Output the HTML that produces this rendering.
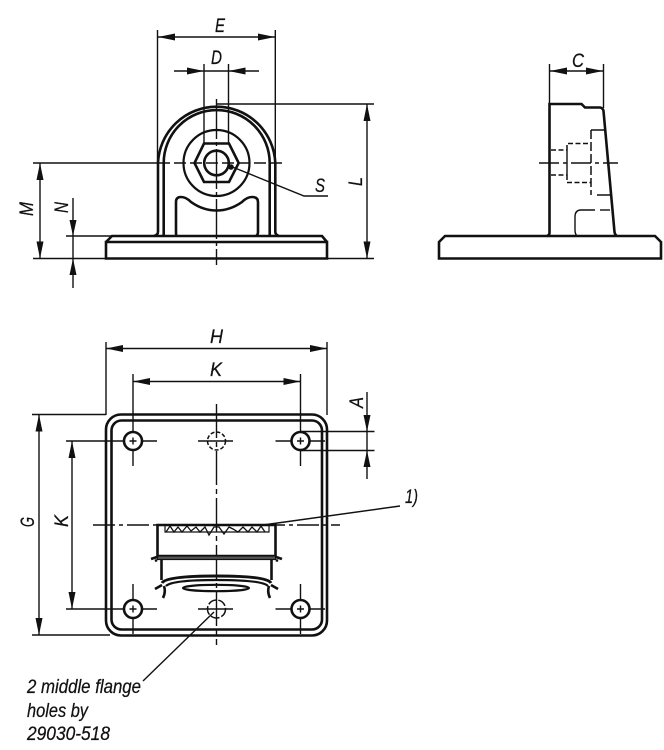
<!DOCTYPE html>
<html><head><meta charset="utf-8">
<style>
html,body{margin:0;padding:0;background:#fff;width:664px;height:750px;overflow:hidden}
svg{display:block}
text{font-family:"Liberation Sans",sans-serif;font-style:italic;font-size:19.5px;fill:#111;stroke:#111;stroke-width:.25}
.t{fill:none;stroke:#111;stroke-width:1.4}
.b{fill:none;stroke:#111;stroke-width:2.6}
.c{fill:none;stroke:#111;stroke-width:1.4;stroke-dasharray:24 4 4 4}
.d{fill:none;stroke:#111;stroke-width:1.5;stroke-dasharray:7 3.5}
polygon{fill:#111}
</style></head><body>
<svg width="664" height="750" viewBox="0 0 664 750" xmlns="http://www.w3.org/2000/svg">
<!-- FRONT VIEW -->
<path class="t" d="M157.5 30V163M275.3 30V163M158 37H275M174 71H259M204 64V144M228.5 64V144"/>
<polygon points="158,37 175,33.5 175,40.5"/><polygon points="275,37 258,33.5 258,40.5"/>
<polygon points="204,71 187,67.5 187,74.5"/><polygon points="228.500,71 245.500,67.500 245.500,74.500"/>
<path class="b" d="M158 232V163A58.700 58.700 0 0 1 275.300 163V232Q275.500 235 279 236M158 232Q157.800 235 154 236"/>
<path class="b" d="M163.700 236V163A53 53 0 0 1 269.700 163V236"/>
<circle class="b" cx="216.500" cy="163" r="33" style="stroke-width:2.200"/>
<path class="b" d="M204 143.500H229L238.700 163L229 182H204L194.500 163Z"/>
<circle class="b" cx="216.500" cy="163" r="12.300"/>
<path class="b" d="M176.500 236Q176 235 176 232V202Q176 197 181 197Q186 197 191 202Q203 210.500 216.500 210.500Q230 210.500 242 202Q247 197 252 197Q258 197 258 202V232Q258 235 256 236"/>
<path class="b" d="M106 258.500V242H327V258.500ZM106 242L112 236H322L327 242"/>
<path class="c" d="M216.500 99V265" style="stroke-dasharray:40 3 4 3"/>
<path class="t" d="M33 163H157"/>
<path class="d" d="M158 163H283" style="stroke-dasharray:12 4"/>
<path class="t" d="M230 166L304 196H328"/>
<circle cx="231" cy="167" r="2.800" fill="#111"/>
<path class="t" d="M216 104H374M33 258.500H106M327 258.500H374M367 104V258M40 163V258M73 198V288M66 236H112"/>
<polygon points="367,104 363.500,121 370.500,121"/><polygon points="367,258.500 363.500,241.500 370.500,241.500"/>
<polygon points="40,163 36.500,180 43.500,180"/><polygon points="40,258.500 36.500,241.500 43.500,241.500"/>
<polygon points="73,236 69.500,220 76.500,220"/><polygon points="73,258.500 69.500,275 76.500,275"/>
<text x="215" y="32" textLength="10" lengthAdjust="spacingAndGlyphs">E</text>
<text x="211" y="64" textLength="11" lengthAdjust="spacingAndGlyphs">D</text>
<text x="315" y="192" textLength="10" lengthAdjust="spacingAndGlyphs">S</text>
<text transform="translate(362 186) rotate(-90)" textLength="9" lengthAdjust="spacingAndGlyphs">L</text>
<text transform="translate(33 216) rotate(-90)" textLength="14" lengthAdjust="spacingAndGlyphs">M</text>
<text transform="translate(68 213) rotate(-90)" textLength="11" lengthAdjust="spacingAndGlyphs">N</text>

<!-- SIDE VIEW -->
<path class="t" d="M549.500 64V104M603.500 64V108M550 71H603"/>
<polygon points="550,71 567,67.500 567,74.500"/><polygon points="603,71 586,67.500 586,74.500"/>
<path class="b" d="M549.500 233V104H581.500L585 107.500H600Q603 108 603.500 111L614.500 232Q615 235 617 236M549.500 233Q549.500 235 547 236"/>
<path class="b" d="M439 258.500V242L445 236H655L661 242V258.500Z"/>
<path class="c" d="M539 163H618" style="stroke-dasharray:20 4 4 4"/>
<path class="t" d="M567 150V175"/>
<path class="d" d="M551 150H567M551 175H567M567 175V182.500H591M567 150V143.500H591" style="stroke-dasharray:5 2.500"/>
<path class="d" d="M591 130V195" style="stroke-dasharray:9 3"/>
<path class="t" d="M591 130H604M597 195H610"/>
<path class="t" d="M610 210H600"/>
<path class="t" d="M595 210H581Q575 210 575 217V230Q575 234 577 236"/>
<text x="572" y="67" textLength="12" lengthAdjust="spacingAndGlyphs">C</text>

<!-- PLAN VIEW -->
<rect class="b" x="106" y="414.500" width="221" height="221" rx="15"/>
<rect class="b" x="111.500" y="420.500" width="210.500" height="209" rx="10"/>
<path class="t" d="M106 342V415M327 342V415M106 348.500H327M133 374V466M300.500 374V466M133 381.500H300.500"/>
<polygon points="106,348.500 123,345 123,352"/><polygon points="327,348.500 310,345 310,352"/>
<polygon points="133,381.500 150,378 150,385"/><polygon points="300.500,381.500 283.500,378 283.500,385"/>
<path class="t" d="M300 431.500H374.500M300 450.500H374.500M367 392V479"/>
<polygon points="367,431.500 363.500,415 370.500,415"/><polygon points="367,450.500 363.500,467 370.500,467"/>
<path class="t" d="M32 414.500H106M32 635H110M39 415V635M66 441H157M66 609H157M72 441V609M275.500 441H325M275.500 609H325M198 441H233M198 609H233M133 584V634M300.500 584V634"/>
<polygon points="39,414.500 35.500,431.500 42.500,431.500"/><polygon points="39,635 35.500,618 42.500,618"/>
<polygon points="72,441 68.500,458 75.500,458"/><polygon points="72,609 68.500,592 75.500,592"/>
<g fill="#fff" stroke="#111" stroke-width="2.600">
<circle cx="133" cy="441" r="9"/><circle cx="300.500" cy="441" r="9"/><circle cx="133" cy="609" r="9"/><circle cx="300.500" cy="609" r="9"/>
</g>
<path class="t" d="M129.500 441H136.500M133 437.500V444.500M297 441H304M300.500 437.500V444.500M129.500 609H136.500M133 605.500V612.500M297 609H304M300.500 605.500V612.500"/>
<circle cx="216.500" cy="441" r="9" class="d" style="stroke-dasharray:4 2"/>
<circle cx="216.500" cy="609" r="9" class="d" style="stroke-dasharray:9 2"/>
<path class="c" d="M216.500 404V645" style="stroke-dasharray:34 4 5 4"/>
<path class="c" d="M93 525H340" style="stroke-dasharray:22 4 4 4"/>
<!-- cutout -->
<path class="b" d="M157.500 525H275.500V556H157.500ZM161.500 559V580M271.500 559V580"/>
<rect x="157.500" y="556" width="118" height="3.500" fill="#555" stroke="#111" stroke-width="1.200"/>
<path class="b" d="M157 557Q154 558 151 559M157 560L155 561M276 557Q279 558 282 559M276 560L278 561"/>
<path class="b" d="M162 583Q166 576 216.500 576Q267 576 271 583" style="stroke-width:3"/>
<path class="t" d="M166 586Q172 580 216.500 580Q262 580 268 586" style="stroke-width:2.200"/>
<path class="b" d="M162 585L155 589M164 586Q166 592 163 598M271 585L278 589M269 586Q267 592 270 598"/>
<ellipse class="t" cx="216" cy="588" rx="33" ry="3.200" style="stroke-width:2.200"/>
<path class="t" d="M165 526V532H269V526" style="stroke-width:1.200"/>
<path class="t" d="M166 532L170 526L174 532L178 527L182 532L187 526L191 531L196 527L200 532L205 527L209 535L214 527L219 527L224 534L229 527L233 529L238 532L243 527L248 532L252 527L257 532L261 526L265 532" style="stroke-width:1.300"/>
<!-- leaders -->
<path class="t" d="M263 525L400 506M214 612L143 681"/>
<text x="405" y="503" textLength="13" lengthAdjust="spacingAndGlyphs">1)</text>
<text x="210" y="343" textLength="13" lengthAdjust="spacingAndGlyphs">H</text>
<text x="210" y="376" textLength="12" lengthAdjust="spacingAndGlyphs">K</text>
<text transform="translate(363 408) rotate(-90)" textLength="11" lengthAdjust="spacingAndGlyphs">A</text>
<text transform="translate(34 527) rotate(-90)" textLength="10" lengthAdjust="spacingAndGlyphs">G</text>
<text transform="translate(68 527) rotate(-90)" textLength="12" lengthAdjust="spacingAndGlyphs">K</text>
<text x="27" y="693" textLength="114" lengthAdjust="spacingAndGlyphs">2 middle flange</text>
<text x="27" y="717" textLength="61" lengthAdjust="spacingAndGlyphs">holes by</text>
<text x="27" y="740" textLength="83" lengthAdjust="spacingAndGlyphs">29030-518</text>
</svg>
</body></html>
